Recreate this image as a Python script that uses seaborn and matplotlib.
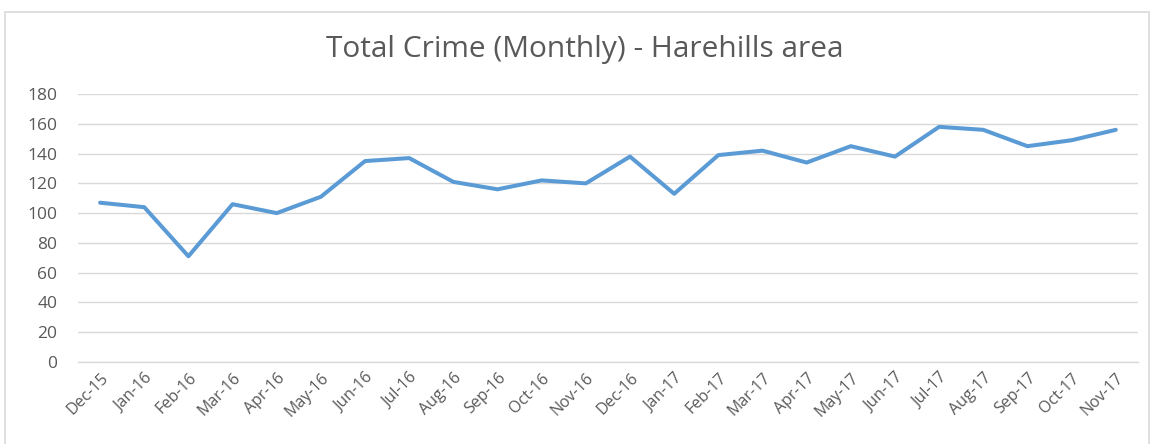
import numpy as np
import pandas as pd
import matplotlib.pyplot as plt
import seaborn as sns
from matplotlib.patches import Rectangle

# data
months = ["Dec-15", "Jan-16", "Feb-16", "Mar-16", "Apr-16", "May-16", "Jun-16",
          "Jul-16", "Aug-16", "Sep-16", "Oct-16", "Nov-16", "Dec-16", "Jan-17",
          "Feb-17", "Mar-17", "Apr-17", "May-17", "Jun-17", "Jul-17", "Aug-17",
          "Sep-17", "Oct-17", "Nov-17"]
crimes = [107, 104, 71, 106, 100, 111, 135, 137, 121, 116, 122, 120, 138, 113,
          139, 142, 134, 145, 138, 158, 156, 145, 149, 156]
y_ticks = [0, 20, 40, 60, 80, 100, 120, 140, 160, 180]

df = pd.DataFrame({"Month": months, "Crime": crimes})

sns.set_style("white")
plt.rcParams["font.family"] = ["Open Sans", "DejaVu Sans"]

grey_text = "#595959"
grid_col = "#D9D9D9"

fig = plt.figure(figsize=(11.54, 4.44), dpi=100)
ax = fig.add_axes([0.0676, 0.185, 0.9184, 0.603])

# outer chart border
fig.patches.append(Rectangle((0.004, -0.02), 0.992, 0.993, transform=fig.transFigure,
                             fill=False, edgecolor=grid_col, linewidth=1.2))

sns.lineplot(data=df, x="Month", y="Crime", ax=ax, color="#5B9BD5",
             linewidth=2.9, sort=False)

ax.set_xlim(-0.5, len(months) - 0.5)
ax.set_ylim(0, 180)
ax.set_yticks(y_ticks)
ax.yaxis.grid(True, color=grid_col, linewidth=1)
ax.set_axisbelow(True)

ax.set_xticks(range(len(months)))
ax.set_xticklabels(months, rotation=45, ha="right", rotation_mode="anchor")
ax.set_xticks(np.arange(-0.5, len(months)), minor=True)
ax.tick_params(axis="x", which="major", length=0, pad=6, labelsize=11.5, labelcolor=grey_text)
ax.tick_params(axis="x", which="minor", length=5, color=grid_col, width=1)
ax.tick_params(axis="y", length=0, pad=15, labelsize=12.5, labelcolor=grey_text)

for s in ["top", "right", "left"]:
    ax.spines[s].set_visible(False)
ax.spines["bottom"].set_color(grid_col)
ax.spines["bottom"].set_linewidth(1)

ax.set_xlabel("")
ax.set_ylabel("")
fig.text(0.507, 0.888, "Total Crime (Monthly) - Harehills area", ha="center", va="center",
         fontsize=21.5, color=grey_text)

plt.savefig("out.png", dpi=100)
plt.close()
